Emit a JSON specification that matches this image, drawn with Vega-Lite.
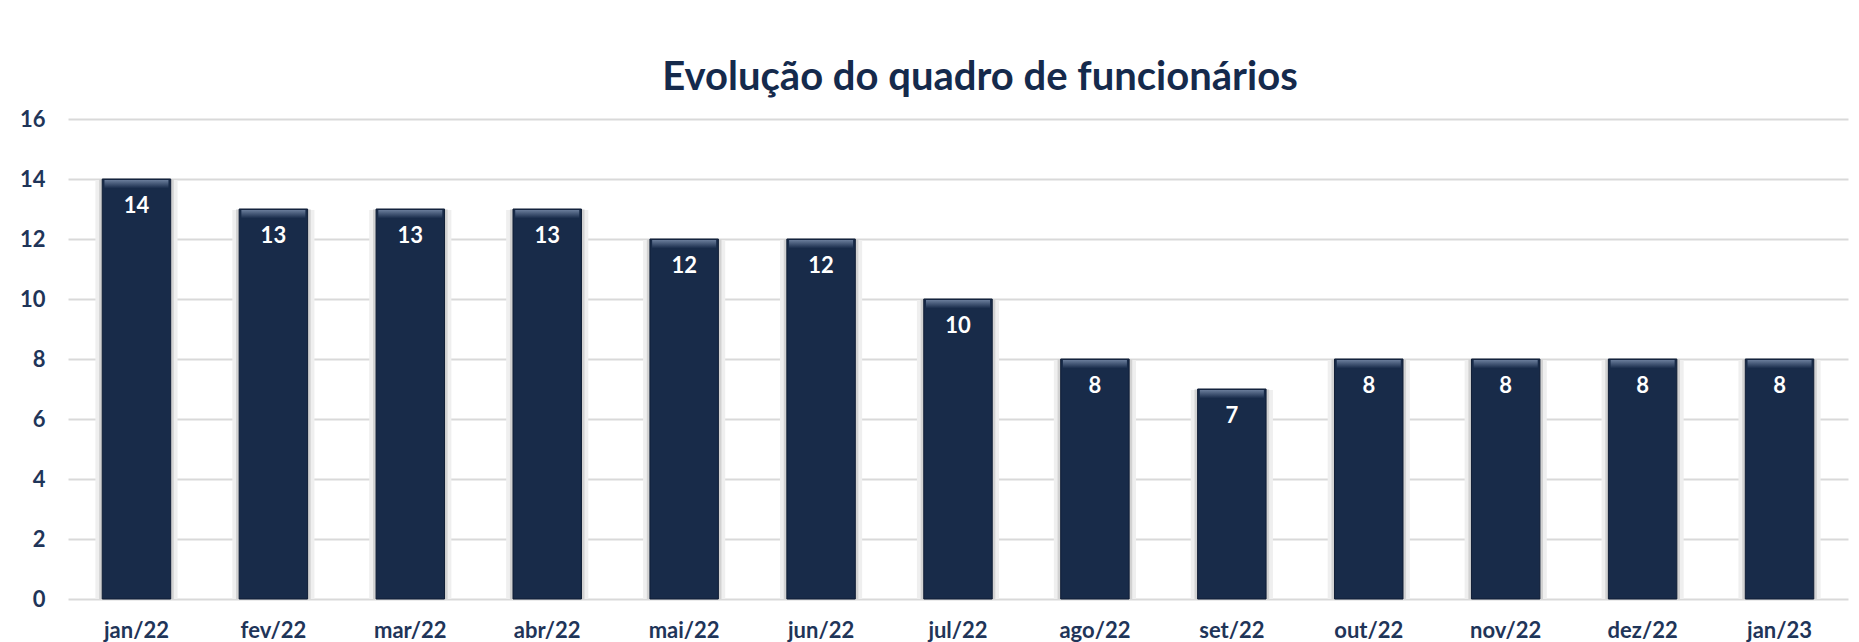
{
  "$schema": "https://vega.github.io/schema/vega-lite/v6.json",
  "autosize": "none",
  "width": 1780,
  "height": 480,
  "padding": {"left": 68, "top": 119, "right": 11, "bottom": 43},
  "background": "white",
  "title": {
    "text": "Evolução do quadro de funcionários",
    "font": "Lato",
    "fontSize": 40,
    "fontWeight": "bold",
    "color": "#152a4c",
    "anchor": "middle",
    "baseline": "alphabetic",
    "offset": 26,
    "dx": 22,
    "dy": 48
  },
  "data": {
    "values": [
      {"mes": "jan/22", "funcionarios": 14},
      {"mes": "fev/22", "funcionarios": 13},
      {"mes": "mar/22", "funcionarios": 13},
      {"mes": "abr/22", "funcionarios": 13},
      {"mes": "mai/22", "funcionarios": 12},
      {"mes": "jun/22", "funcionarios": 12},
      {"mes": "jul/22", "funcionarios": 10},
      {"mes": "ago/22", "funcionarios": 8},
      {"mes": "set/22", "funcionarios": 7},
      {"mes": "out/22", "funcionarios": 8},
      {"mes": "nov/22", "funcionarios": 8},
      {"mes": "dez/22", "funcionarios": 8},
      {"mes": "jan/23", "funcionarios": 8}
    ]
  },
  "encoding": {
    "x": {
      "field": "mes",
      "type": "nominal",
      "sort": null,
      "scale": {"paddingInner": 0, "paddingOuter": 0},
      "axis": {
        "title": null,
        "labelAngle": 0,
        "domain": false,
        "ticks": false,
        "tickSize": 0,
        "labelFont": "Lato",
        "labelFontSize": 22,
        "labelFontWeight": "bold",
        "labelColor": "#1f3559",
        "labelBaseline": "alphabetic",
        "labelPadding": 38
      }
    },
    "y": {
      "field": "funcionarios",
      "type": "quantitative",
      "scale": {"domain": [0, 16], "nice": false},
      "axis": {
        "title": null,
        "values": [0, 2, 4, 6, 8, 10, 12, 14, 16],
        "domain": false,
        "ticks": false,
        "tickSize": 0,
        "labelPadding": 23,
        "labelFont": "Lato",
        "labelFontSize": 22,
        "labelFontWeight": "bold",
        "labelColor": "#1f3559",
        "gridColor": "#d9d9d9",
        "gridWidth": 2
      }
    }
  },
  "layer": [
    {
      "mark": {"type": "bar", "width": {"band": 0.6}, "color": "#efefef", "yOffset": 1},
      "encoding": {"y2": {"datum": 0}}
    },
    {
      "mark": {"type": "bar", "width": {"band": 0.545}, "color": "#d2d2d2", "yOffset": 0.5},
      "encoding": {"y2": {"datum": 0}}
    },
    {
      "mark": {"type": "bar", "width": {"band": 0.5}, "color": "#182b49", "stroke": "#0f1d35", "strokeWidth": 1},
      "encoding": {"y2": {"datum": 0}}
    },
    {
      "mark": {
        "type": "tick",
        "orient": "horizontal",
        "size": 64,
        "thickness": 8,
        "yOffset": 5,
        "opacity": 1,
        "color": {
          "gradient": "linear",
          "x1": 0, "y1": 0, "x2": 0, "y2": 1,
          "stops": [
            {"offset": 0, "color": "#6a7d9b"},
            {"offset": 1, "color": "#1b2e4d"}
          ]
        }
      }
    },
    {
      "mark": {
        "type": "text",
        "font": "Lato",
        "fontSize": 22,
        "fontWeight": "bold",
        "color": "white",
        "baseline": "middle",
        "dy": 27
      },
      "encoding": {"text": {"field": "funcionarios", "type": "quantitative"}}
    }
  ],
  "config": {
    "view": {"stroke": null}
  }
}
